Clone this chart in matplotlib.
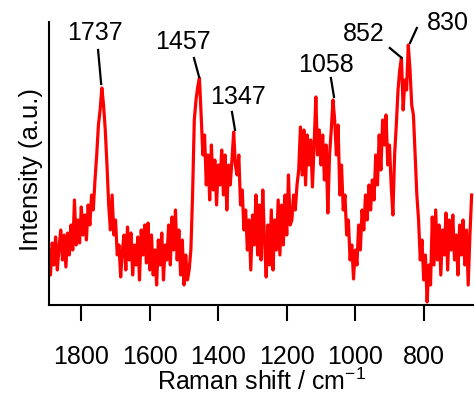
import numpy as np
import matplotlib.pyplot as plt

plt.rcParams['font.family'] = ['Liberation Sans', 'DejaVu Sans']
plt.rcParams['mathtext.fontset'] = 'custom'
plt.rcParams['mathtext.rm'] = 'Liberation Sans'

# Raman spectrum, every 5 cm-1 from 1895 down to 655
intensity = [
    # 1895 - 1760
    55, 30, 62, 40, 68, 35, 58, 75, 45, 70, 38, 72, 50, 80, 55, 105, 60, 85, 62, 98,
    70, 90, 65, 100, 80, 110, 95, 125,
    # 1755 - 1685
    150, 180, 195, 217, 200, 175, 140, 100, 75, 110, 70, 85, 50, 60, 28,
    # 1680 - 1460
    55, 70, 35, 78, 45, 72, 30, 60, 40, 68, 25, 75, 50, 80, 42, 82, 35, 70, 30, 55,
    20, 65, 40, 72, 25, 60, 45, 80, 40, 88, 55, 95, 45, 75, 30, 65, 20, 50, 25, 35,
    55, 110, 185, 205, 218,
    # 1455
    227,
    # 1450 - 1260
    190, 150, 170, 120, 150, 105, 160, 115, 145, 100, 140, 120, 155, 110, 150, 95, 140, 120, 145, 173,
    140, 130, 150, 100, 115, 75, 95, 55, 85, 35, 90, 60, 110, 50, 100, 45, 115, 65, 28,
    # 1250 - 1060
    80, 40, 95, 35, 85, 55, 105, 50, 100, 60, 110, 70, 130, 80, 85, 110, 95, 120, 135, 178,
    130, 175, 120, 170, 140, 165, 118, 160, 208, 150, 175, 140, 170, 125, 160, 92, 150, 175, 205,
    # 1055
    185,
    # 1050 - 850
    150, 180, 110, 140, 95, 110, 70, 85, 45, 60, 26, 55, 40, 80, 55, 95, 75, 110, 85, 120,
    95, 125, 105, 150, 120, 170, 135, 185, 160, 190, 140, 160, 120, 90, 150, 180, 215, 235, 247, 195,
    225,
    # 845 - 655
    215, 260, 235, 200, 190, 150, 110, 85, 45, 65, 25, 50, 3, 40, 20, 88, 40, 95, 45, 80,
    30, 75, 50, 92, 35, 85, 55, 90, 45, 70, 30, 80, 50, 85, 40, 75, 20, 70, 110,
]
shift = 1895 - 5 * np.arange(len(intensity))

# peak labels
peak_labels = ['1737', '1457', '1347', '1058', '852', '830']
peak_tip_x = [1742, 1456, 1351, 1062, 864, 840]
peak_tip_y = [221, 228, 175, 208, 247, 262]
# layout of the labels (text centre and start of leader line)
text_x = [1760, 1503, 1342, 1086, 975, 730]
text_y = [272, 263, 208, 240, 271, 282]
lead_x = [1751, 1471, 1360, 1071, 899, 820]
lead_y = [255, 247, 193, 227, 257, 277]

fig = plt.figure(figsize=(4.74, 3.99), dpi=100)
ax = fig.add_axes([0.1034, 0.2356, 0.8966, 0.7093])

ax.plot(shift, intensity, color='#ff0000', lw=2.3)

for i in range(len(peak_labels)):
    ax.plot([lead_x[i], peak_tip_x[i]], [lead_y[i], peak_tip_y[i]], color='black', lw=1.6)
    ax.text(text_x[i], text_y[i], peak_labels[i], fontsize=18,
            ha='center', va='center')

ax.set_xlim(1894.3, 653.1)
ax.set_ylim(0, 283)
ax.set_xticks([1800, 1600, 1400, 1200, 1000, 800])
ax.set_yticks([])
ax.tick_params(axis='x', direction='out', length=11.5, width=1.5, pad=17, labelsize=18)

for side in ['top', 'right']:
    ax.spines[side].set_visible(False)
for side in ['left', 'bottom']:
    ax.spines[side].set_linewidth(1.5)

ax.set_xlabel('Raman shift / cm$^{\\mathregular{-1}}$', fontsize=18)
ax.xaxis.set_label_coords(0.5, -0.223)
ax.set_ylabel('Intensity (a.u.)', fontsize=18.5)
ax.yaxis.set_label_coords(-0.0135, 0.477)

fig.savefig('out.png', dpi=100)
